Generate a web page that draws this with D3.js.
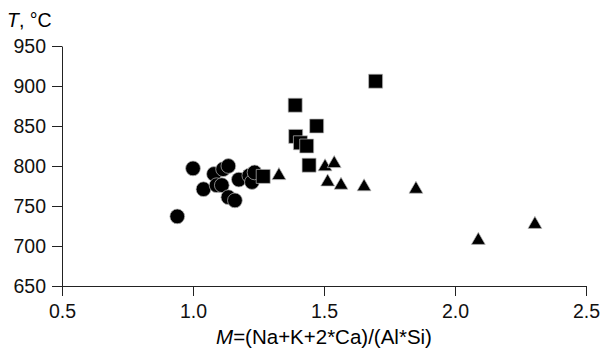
<!DOCTYPE html>
<html lang="en">
<head>
  <meta charset="UTF-8">
  <title>T vs M</title>
  <script src="https://d3js.org/d3.v7.min.js"></script>
  <style>
    body { margin: 0; background: #fff; }
    svg { font-family: "Liberation Sans", Arial, sans-serif; }
    .axis path, .axis line { stroke: #222; stroke-width: 1px; }
    .axis text { font-size: 19.5px; fill: #111; }
  </style>
</head>
<body>
  <svg width="602" height="350"></svg>

  <script>
    // circles
    const circleM = [0.94, 1.00, 1.04, 1.08, 1.09, 1.11, 1.115, 1.135, 1.135, 1.16, 1.175, 1.215, 1.225, 1.235];
    const circleT = [737, 797, 771, 790, 776, 776, 796, 800, 761, 757, 783, 788, 780, 792];
    // squares
    const squareM = [1.268, 1.39, 1.392, 1.41, 1.434, 1.443, 1.472, 1.697];
    const squareT = [787, 876, 837, 829, 825, 801, 850, 906];
    // triangles
    const triM = [1.328, 1.504, 1.539, 1.514, 1.565, 1.653, 1.851, 2.089, 2.305];
    const triT = [788, 799, 803, 780, 776, 774, 771, 707, 727];

    const xTicks = [0.5, 1.0, 1.5, 2.0, 2.5];
    const yTicks = [650, 700, 750, 800, 850, 900, 950];

    const svg = d3.select("svg");

    const x = d3.scaleLinear().domain([0.5, 2.5]).range([62, 586]);
    const y = d3.scaleLinear().domain([650, 950]).range([286, 46]);

    // X axis
    svg.append("g")
      .attr("class", "axis")
      .attr("transform", "translate(0,286)")
      .call(d3.axisBottom(x).tickValues(xTicks).tickFormat(d3.format(".1f"))
        .tickSizeInner(10).tickSizeOuter(0).tickPadding(8));

    // Y axis
    svg.append("g")
      .attr("class", "axis")
      .attr("transform", "translate(62,0)")
      .call(d3.axisLeft(y).tickValues(yTicks).tickFormat(d3.format("d"))
        .tickSizeInner(10).tickSizeOuter(0).tickPadding(6));

    // axis titles
    const yt = svg.append("text")
      .attr("x", 7).attr("y", 27)
      .style("font-size", "19.5px");
    yt.append("tspan").attr("font-style", "italic").text("T");
    yt.append("tspan").text(", °C");

    const xt = svg.append("text")
      .attr("x", 324).attr("y", 344)
      .attr("text-anchor", "middle")
      .style("font-size", "20.5px");
    xt.append("tspan").attr("font-style", "italic").text("M");
    xt.append("tspan").text("=(Na+K+2*Ca)/(Al*Si)");

    function plot(ms, ts, type, size) {
      const pts = ms.map((m, i) => ({ m: m, t: ts[i] }));
      svg.append("g").selectAll("path")
        .data(pts)
        .enter()
        .append("path")
        .attr("transform", d => `translate(${x(d.m)},${y(d.t)})`)
        .attr("d", d3.symbol().type(type).size(size))
        .attr("fill", "#000")
        .attr("stroke", "#bbb")
        .attr("stroke-width", 0.7);
    }

    plot(circleM, circleT, d3.symbolCircle, 172);
    plot(squareM, squareT, d3.symbolSquare, 196);
    plot(triM, triT, d3.symbolTriangle, 84);
  </script>
</body>
</html>
